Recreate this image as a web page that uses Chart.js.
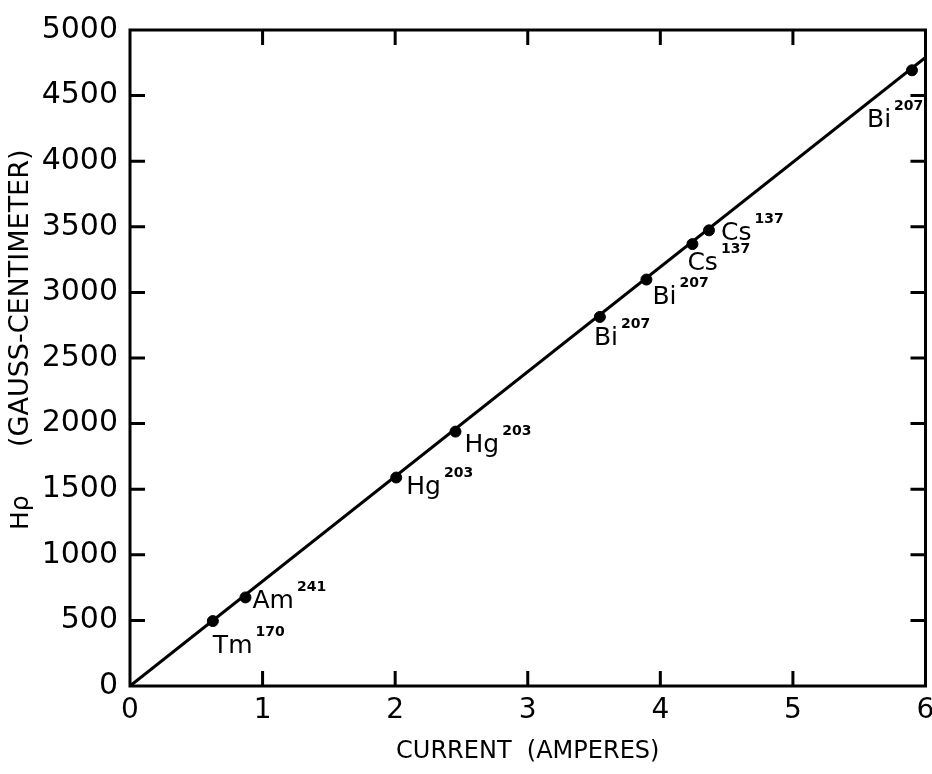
<!DOCTYPE html>
<html>
<head>
<meta charset="utf-8">
<script src="https://cdn.jsdelivr.net/npm/chart.js@4"></script>
<style>
  html, body { margin: 0; padding: 0; background: #fff; }
  #wrap { width: 932px; height: 774px; }
</style>
</head>
<body>
<div id="wrap"><canvas id="myChart" width="932" height="774"></canvas></div>
<script>
// calibration points
const currentA = [0.625, 0.871, 2.008, 2.455, 3.544, 3.895, 4.242, 4.367, 5.898];
const hRho = [495, 675, 1589, 1939, 2813, 3098, 3368, 3473, 4693];
const isotopes = ['Tm', 'Am', 'Hg', 'Hg', 'Bi', 'Bi', 'Cs', 'Cs', 'Bi'];
const massNumbers = ['170', '241', '203', '203', '207', '207', '137', '137', '207'];

// straight calibration line through the origin
const fitX = [0, 6];
const fitY = [0, 4790];

const xTicks = [0, 1, 2, 3, 4, 5, 6];
const yTicks = [0, 500, 1000, 1500, 2000, 2500, 3000, 3500, 4000, 4500, 5000];

// label placement (pixels from the point: symbol left, symbol baseline)
const labelOffsets = [[0, 32], [7, 11], [10, 16], [9, 20], [-6, 28], [6, 24], [-5, 26], [12, 10], [-45, 57]];

const FONT = "'DejaVu Sans', sans-serif";

const frameAndLabels = {
    id: 'frameAndLabels',
    afterDraw(chart) {
        const ctx = chart.ctx;
        const a = chart.chartArea;
        const xs = chart.scales.x;
        const ys = chart.scales.y;
        const len = 15;
        ctx.save();
        ctx.strokeStyle = '#000';
        ctx.lineWidth = 3;
        ctx.strokeRect(a.left, a.top, a.right - a.left, a.bottom - a.top);
        ctx.beginPath();
        xTicks.slice(1, -1).forEach(v => {
            const px = xs.getPixelForValue(v);
            ctx.moveTo(px, a.bottom); ctx.lineTo(px, a.bottom - len);
            ctx.moveTo(px, a.top); ctx.lineTo(px, a.top + len);
        });
        yTicks.slice(1, -1).forEach(v => {
            const py = ys.getPixelForValue(v);
            ctx.moveTo(a.left, py); ctx.lineTo(a.left + len, py);
            ctx.moveTo(a.right, py); ctx.lineTo(a.right - len, py);
        });
        ctx.stroke();

        // y axis title, rotated, with a wide gap after H rho
        ctx.fillStyle = '#000';
        ctx.save();
        ctx.translate(21, 530);
        ctx.rotate(-Math.PI / 2);
        ctx.textBaseline = 'middle';
        ctx.textAlign = 'left';
        ctx.font = '25px ' + FONT;
        ctx.fillText('H\u03C1', 0, 0);
        ctx.font = '27px ' + FONT;
        ctx.fillText('(GAUSS-CENTIMETER)', 83, 0);
        ctx.restore();

        // isotope labels
        ctx.textBaseline = 'alphabetic';
        ctx.textAlign = 'left';
        const meta = chart.getDatasetMeta(1);
        meta.data.forEach((pt, i) => {
            const x0 = pt.x + labelOffsets[i][0];
            const y0 = pt.y + labelOffsets[i][1];
            ctx.font = '25px ' + FONT;
            ctx.fillText(isotopes[i], x0, y0);
            const w = ctx.measureText(isotopes[i]).width;
            ctx.font = 'bold 14px ' + FONT;
            ctx.fillText(massNumbers[i], x0 + w + 3, y0 - 17);
        });
        ctx.restore();
    }
};

const config = {
    type: 'scatter',
    data: {
        datasets: [{
            label: 'fit',
            type: 'line',
            data: fitX.map((x, i) => ({ x: x, y: fitY[i] })),
            borderColor: '#000',
            borderWidth: 3,
            pointRadius: 0,
            fill: false,
        }, {
            label: 'sources',
            data: currentA.map((x, i) => ({ x: x, y: hRho[i] })),
            backgroundColor: '#000',
            borderColor: '#000',
            pointRadius: 5.5,
        }]
    },
    options: {
        responsive: false,
        animation: false,
        layout: { padding: { top: 19, right: 5, left: 0, bottom: 0 } },
        plugins: {
            legend: { display: false },
            tooltip: { enabled: false }
        },
        scales: {
            x: {
                type: 'linear',
                min: 0,
                max: 6,
                afterBuildTicks: s => { s.ticks = xTicks.map(v => ({ value: v })); },
                afterFit: s => { s.height = 88; s.paddingLeft = 0; s.paddingRight = 0; },
                grid: { display: false, drawTicks: false },
                border: { display: false },
                ticks: {
                    color: '#000',
                    font: { family: FONT, size: 28 },
                    padding: 8,
                    callback: v => String(v)
                },
                title: {
                    display: true,
                    text: 'CURRENT  (AMPERES)',
                    color: '#000',
                    font: { family: FONT, size: 24 },
                    padding: { top: 4, bottom: 8 }
                }
            },
            y: {
                type: 'linear',
                min: 0,
                max: 5000,
                afterBuildTicks: s => { s.ticks = yTicks.map(v => ({ value: v })); },
                afterFit: s => { s.width = 130; },
                grid: { display: false, drawTicks: false },
                border: { display: false },
                ticks: {
                    color: '#000',
                    font: { family: FONT, size: 30 },
                    padding: 12,
                    callback: v => String(v)
                },
                title: { display: false }
            }
        }
    },
    plugins: [frameAndLabels]
};

const myChart = new Chart(document.getElementById('myChart'), config);
</script>
</body>
</html>
